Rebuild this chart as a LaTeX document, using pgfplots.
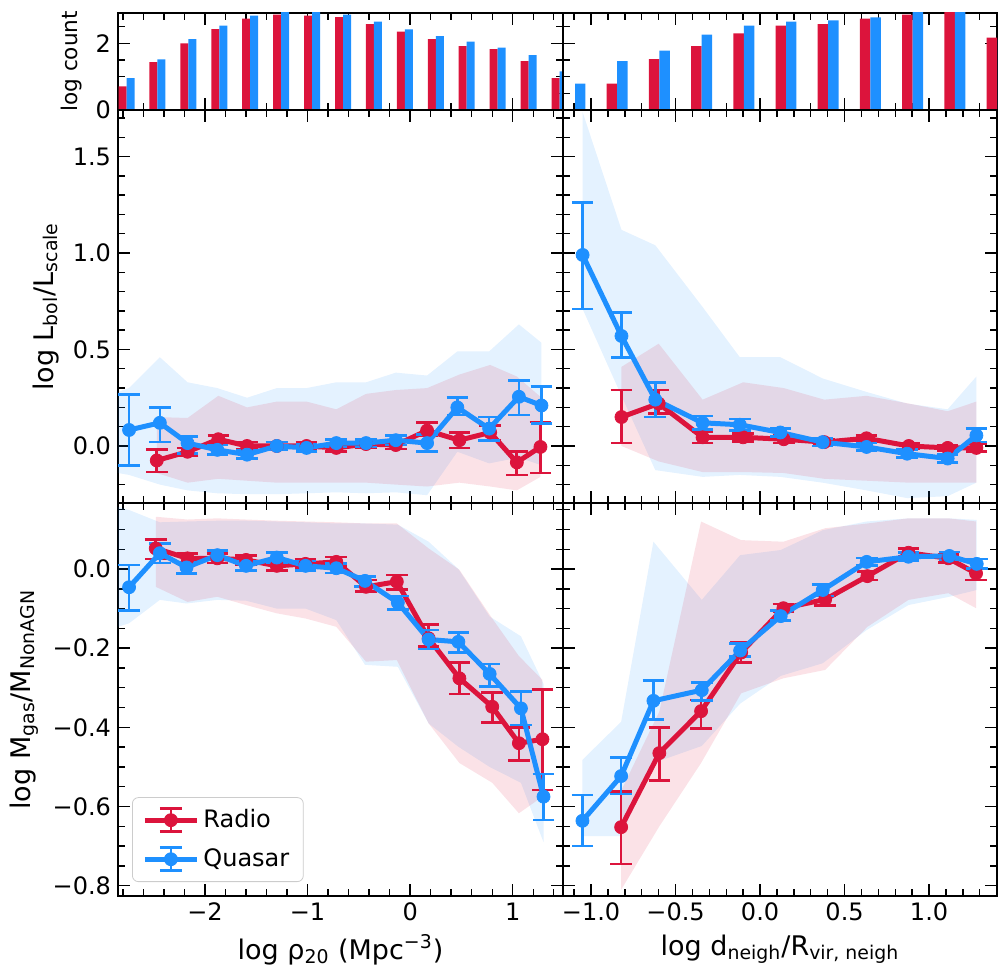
\documentclass[border=0pt]{standalone}
\usepackage{fontspec}
\setmainfont{DejaVu Sans}
\usepackage{pgfplots}
\pgfplotsset{compat=1.18}
\definecolor{crimson}{RGB}{220,20,60}
\definecolor{dodger}{RGB}{30,144,255}
\pgfplotsset{
  panel/.style={
    scale only axis, anchor=south west,
    tick align=inside,
    major tick length=6pt, minor tick length=3.5pt,
    every tick/.style={black, line width=0.7pt},
    axis line style={black, line width=0.9pt},
    ticklabel style={font=\fontsize{12}{14}\selectfont},
    label style={font=\fontsize{13.5}{16}\selectfont},
    xtick pos=both, ytick pos=both,
  },
  lx/.style={width=222.5pt, xmin=-2.848, xmax=1.49, xtick={-2,-1,0,1}, minor xtick={-2.8,-2.6,...,1.41}},
  rx/.style={width=217pt, xmin=-1.166, xmax=1.402, xtick={-1,-0.5,0,0.5,1}, minor xtick={-1.1,-1.0,...,1.41}},
  toprow/.style={height=48.65pt, ymin=0, ymax=2.92, ytick={0,2}, minor ytick={0.5,1,1.5,2.5}},
  midrow/.style={height=196.65pt, ymin=-0.297, ymax=1.741, ytick={0,0.5,1,1.5}, minor ytick={-0.2,-0.1,...,1.71}},
  botrow/.style={height=196.35pt, ymin=-0.826, ymax=0.166, ytick={-0.8,-0.6,-0.4,-0.2,0}, minor ytick={-0.8,-0.75,...,0.151}},
  rbar/.style={ybar, bar width=0.078, bar shift=0pt, fill=crimson, draw=none, forget plot},
  bbar/.style={ybar, bar width=0.078, bar shift=0pt, fill=dodger, draw=none, forget plot},
  rband/.style={draw=none, fill=crimson, fill opacity=0.12, forget plot},
  bband/.style={draw=none, fill=dodger, fill opacity=0.12, forget plot},
  rad/.style={color=crimson, line width=2.5pt, mark=*, mark size=3.25pt,
    mark options={solid, fill=crimson, draw=crimson, line width=0.4pt}, forget plot,
    error bars/.cd, y dir=both, y explicit,
    error bar style={line width=1.35pt, crimson},
    error mark options={rotate=90, crimson, line width=1.35pt, mark size=5.4pt}},
  qua/.style={color=dodger, line width=2.5pt, mark=*, mark size=3.25pt,
    mark options={solid, fill=dodger, draw=dodger, line width=0.4pt}, forget plot,
    error bars/.cd, y dir=both, y explicit,
    error bar style={line width=1.35pt, dodger},
    error mark options={rotate=90, dodger, line width=1.35pt, mark size=5.4pt}},
}
\newcommand{\errimg}[1]{%
  \draw[#1, line width=2.5pt] (0pt,0pt) -- (26pt,0pt);
  \draw[#1, line width=1.35pt] (13pt,-5.75pt) -- (13pt,5.75pt);
  \draw[#1, line width=1.35pt] (7.5pt,5.75pt) -- (18.5pt,5.75pt);
  \draw[#1, line width=1.35pt] (7.5pt,-5.75pt) -- (18.5pt,-5.75pt);
  \fill[#1, fill opacity=1] (13pt,0pt) circle (3.25pt);}
\begin{document}
\begin{tikzpicture}
\useasboundingbox (0pt,0pt) rectangle (500pt,485.5pt);
% ---------------- top left histogram
\begin{axis}[panel, lx, toprow, at={(59pt,430.5pt)}, xticklabels={}, yticklabels={0,2}, ylabel={log count},
  ylabel style={font=\fontsize{10.8}{13}\selectfont}]
\addplot[rbar] coordinates {(-2.804,0.71) (-2.5025,1.44) (-2.201,2.00) (-1.8995,2.43) (-1.598,2.74) (-1.2965,2.86) (-0.995,2.83) (-0.6935,2.79) (-0.392,2.58) (-0.0905,2.35) (0.211,2.13) (0.5125,1.92) (0.814,1.83) (1.1155,1.47) (1.417,0.96)};
\addplot[bbar] coordinates {(-2.726,0.96) (-2.4245,1.52) (-2.123,2.13) (-1.8215,2.53) (-1.52,2.83) (-1.2185,3.0) (-0.917,3.0) (-0.6155,2.86) (-0.314,2.65) (-0.0125,2.42) (0.289,2.22) (0.5905,2.05) (0.892,1.87) (1.1935,1.65) (1.495,1.16)};
\end{axis}
% ---------------- top right histogram
\begin{axis}[panel, rx, toprow, at={(281.5pt,430.5pt)}, xticklabels={}, yticklabels={}]
\addplot[rbar, bar width=0.062] coordinates {(-0.8763,0.79) (-0.6266,1.53) (-0.3769,1.92) (-0.1272,2.30) (0.1225,2.53) (0.3722,2.58) (0.6219,2.74) (0.8716,2.86) (1.1213,3.0) (1.371,2.17)};
\addplot[bbar, bar width=0.062] coordinates {(-1.064,0.79) (-0.8143,1.47) (-0.5646,1.78) (-0.3149,2.26) (-0.0652,2.53) (0.1845,2.65) (0.4342,2.69) (0.6839,2.78) (0.9336,3.0) (1.1833,3.0) (1.433,2.12)};
\end{axis}
% ---------------- middle left
\begin{axis}[panel, lx, midrow, at={(59pt,233.85pt)}, xticklabels={}, yticklabels={0.0,0.5,1.0,1.5},
  ylabel={log L\textsubscript{bol}/L\textsubscript{scale}}]
\addplot[bband] coordinates {(-2.848,0.28) (-2.74,0.30) (-2.44,0.46) (-2.17,0.33) (-1.88,0.30) (-1.59,0.25) (-1.30,0.30) (-1.01,0.30) (-0.72,0.33) (-0.43,0.33) (-0.14,0.38) (0.165,0.365) (0.46,0.49) (0.77,0.49) (1.06,0.63) (1.28,0.535)
 (1.28,-0.10) (1.06,-0.06) (0.77,-0.09) (0.46,-0.03) (0.165,-0.255) (-0.14,-0.24) (-0.43,-0.245) (-0.72,-0.24) (-1.01,-0.245) (-1.30,-0.25) (-1.59,-0.25) (-1.88,-0.245) (-2.17,-0.23) (-2.44,-0.20) (-2.74,-0.15) (-2.848,-0.14)} -- cycle;
\addplot[rband] coordinates {(-2.47,0.15) (-2.17,0.145) (-1.87,0.26) (-1.59,0.20) (-1.30,0.23) (-1.01,0.23) (-0.72,0.19) (-0.43,0.27) (-0.14,0.29) (0.165,0.30) (0.48,0.37) (0.78,0.42) (1.04,0.36) (1.27,0.255)
 (1.27,-0.16) (1.04,-0.23) (0.78,-0.21) (0.48,-0.19) (0.165,-0.21) (-0.14,-0.20) (-0.43,-0.19) (-0.72,-0.19) (-1.01,-0.19) (-1.30,-0.19) (-1.59,-0.18) (-1.87,-0.17) (-2.17,-0.19) (-2.47,-0.14)} -- cycle;
\addplot[rad] table[x=x,y=y,y error plus=ep,y error minus=em,row sep=\\] {x y ep em\\
-2.47 -0.075 0.055 0.06\\ -2.17 -0.03 0.02 0.02\\ -1.87 0.035 0.02 0.02\\ -1.59 0.0 0.02 0.02\\ -1.30 0.0 0.02 0.02\\
-1.01 0.0 0.02 0.02\\ -0.72 -0.01 0.02 0.02\\ -0.43 0.01 0.02 0.02\\ -0.14 0.005 0.02 0.02\\ 0.165 0.08 0.04 0.025\\
0.48 0.03 0.04 0.04\\ 0.78 0.07 0.035 0.04\\ 1.04 -0.085 0.055 0.065\\ 1.27 -0.005 0.13 0.135\\};
\addplot[qua] table[x=x,y=y,y error plus=ep,y error minus=em,row sep=\\] {x y ep em\\
-2.74 0.083 0.182 0.183\\ -2.44 0.12 0.08 0.10\\ -2.17 0.015 0.035 0.055\\ -1.88 -0.02 0.025 0.025\\ -1.59 -0.045 0.02 0.02\\
-1.30 0.0 0.02 0.02\\ -1.01 -0.01 0.02 0.02\\ -0.72 0.015 0.02 0.02\\ -0.43 0.015 0.02 0.02\\ -0.14 0.03 0.025 0.025\\
0.165 0.015 0.045 0.045\\ 0.46 0.20 0.05 0.04\\ 0.77 0.09 0.06 0.06\\ 1.06 0.255 0.085 0.095\\ 1.28 0.21 0.10 0.095\\};
\end{axis}
% ---------------- middle right
\begin{axis}[panel, rx, midrow, at={(281.5pt,233.85pt)}, xticklabels={}, yticklabels={}]
\addplot[bband] coordinates {(-1.05,1.73) (-0.82,1.12) (-0.62,1.04) (-0.34,0.72) (-0.12,0.46) (0.12,0.46) (0.37,0.35) (0.63,0.28) (0.87,0.22) (1.11,0.19) (1.28,0.36)
 (1.28,-0.19) (1.11,-0.26) (0.87,-0.27) (0.63,-0.23) (0.37,-0.19) (0.12,-0.16) (-0.12,-0.15) (-0.34,-0.16) (-0.62,-0.125) (-0.82,0.26) (-1.05,0.71)} -- cycle;
\addplot[rband] coordinates {(-0.82,0.41) (-0.60,0.53) (-0.34,0.24) (-0.10,0.33) (0.14,0.30) (0.38,0.24) (0.63,0.26) (0.88,0.22) (1.11,0.18) (1.28,0.23)
 (1.28,-0.19) (1.11,-0.19) (0.88,-0.19) (0.63,-0.18) (0.38,-0.17) (0.14,-0.14) (-0.10,-0.135) (-0.34,-0.135) (-0.60,-0.08) (-0.82,0.0)} -- cycle;
\addplot[rad] table[x=x,y=y,y error plus=ep,y error minus=em,row sep=\\] {x y ep em\\
-0.82 0.15 0.14 0.135\\ -0.60 0.22 0.07 0.05\\ -0.34 0.045 0.03 0.03\\ -0.10 0.045 0.02 0.02\\ 0.14 0.035 0.02 0.02\\
0.38 0.02 0.015 0.015\\ 0.63 0.04 0.015 0.015\\ 0.88 0.0 0.015 0.015\\ 1.11 -0.01 0.015 0.015\\ 1.28 -0.01 0.02 0.02\\};
\addplot[qua] table[x=x,y=y,y error plus=ep,y error minus=em,row sep=\\] {x y ep em\\
-1.05 0.99 0.27 0.28\\ -0.82 0.57 0.12 0.11\\ -0.62 0.24 0.09 0.09\\ -0.34 0.12 0.035 0.035\\ -0.12 0.11 0.03 0.03\\
0.12 0.07 0.02 0.02\\ 0.37 0.02 0.02 0.02\\ 0.63 -0.005 0.02 0.02\\ 0.87 -0.04 0.02 0.02\\ 1.11 -0.065 0.02 0.02\\ 1.28 0.055 0.035 0.035\\};
\end{axis}
% ---------------- bottom left
\begin{axis}[panel, lx, botrow, at={(59pt,37.5pt)}, xticklabels={−2,−1,0,1}, yticklabels={−0.8,−0.6,−0.4,−0.2,0.0},
  xlabel={log ρ\textsubscript{20} (Mpc\textsuperscript{−3})}, ylabel={log M\textsubscript{gas}/M\textsubscript{NonAGN}},
  legend style={at={(0.0315,0.0356)}, anchor=south west, draw=black!20, rounded corners=3pt, fill=white, fill opacity=0.8, draw opacity=1, text opacity=1,
    font=\fontsize{12}{14}\selectfont, inner xsep=5pt, inner ysep=4pt, row sep=5pt, cells={anchor=west}},
  legend cell align=left]
\addlegendimage{legend image code/.code={\errimg{crimson}}}
\addlegendentry{Radio}
\addlegendimage{legend image code/.code={\errimg{dodger}}}
\addlegendentry{Quasar}
\addplot[bband] coordinates {(-2.848,0.157) (-2.74,0.149) (-2.44,0.118) (-2.18,0.12) (-1.88,0.122) (-1.60,0.122) (-1.30,0.12) (-1.02,0.118) (-0.72,0.115) (-0.44,0.115) (-0.12,0.112) (0.18,0.069) (0.47,0.0) (0.775,-0.12) (1.08,-0.17) (1.30,-0.29)
 (1.30,-0.69) (1.08,-0.54) (0.775,-0.50) (0.47,-0.449) (0.18,-0.39) (-0.12,-0.247) (-0.44,-0.242) (-0.72,-0.129) (-1.02,-0.10) (-1.30,-0.10) (-1.60,-0.08) (-1.88,-0.078) (-2.18,-0.087) (-2.44,-0.078) (-2.74,-0.137) (-2.848,-0.146)} -- cycle;
\addplot[rband] coordinates {(-2.48,0.132) (-2.17,0.125) (-1.88,0.128) (-1.60,0.125) (-1.30,0.122) (-1.02,0.12) (-0.72,0.118) (-0.43,0.115) (-0.13,0.115) (0.18,0.052) (0.48,-0.002) (0.80,-0.125) (1.06,-0.22) (1.29,-0.28)
 (1.29,-0.575) (1.06,-0.617) (0.80,-0.54) (0.48,-0.49) (0.18,-0.39) (-0.13,-0.23) (-0.43,-0.234) (-0.72,-0.146) (-1.02,-0.125) (-1.30,-0.112) (-1.60,-0.091) (-1.88,-0.07) (-2.17,-0.083) (-2.48,-0.045)} -- cycle;
\addplot[rad] table[x=x,y=y,y error plus=ep,y error minus=em,row sep=\\] {x y ep em\\
-2.48 0.052 0.023 0.027\\ -2.17 0.027 0.012 0.012\\ -1.88 0.027 0.012 0.012\\ -1.60 0.023 0.012 0.012\\ -1.30 0.008 0.012 0.012\\
-1.02 0.013 0.012 0.012\\ -0.72 0.018 0.012 0.012\\ -0.43 -0.045 0.017 0.012\\ -0.13 -0.032 0.017 0.019\\ 0.18 -0.175 0.034 0.021\\
0.48 -0.276 0.039 0.04\\ 0.80 -0.348 0.036 0.039\\ 1.06 -0.44 0.04 0.044\\ 1.29 -0.43 0.126 0.128\\};
\addplot[qua] table[x=x,y=y,y error plus=ep,y error minus=em,row sep=\\] {x y ep em\\
-2.74 -0.046 0.056 0.058\\ -2.44 0.040 0.025 0.025\\ -2.18 0.004 0.013 0.015\\ -1.88 0.035 0.012 0.012\\ -1.60 0.008 0.012 0.012\\
-1.30 0.029 0.012 0.012\\ -1.02 0.008 0.012 0.012\\ -0.72 0.002 0.012 0.012\\ -0.44 -0.030 0.011 0.014\\ -0.12 -0.085 0.017 0.017\\
0.18 -0.178 0.024 0.024\\ 0.47 -0.184 0.023 0.027\\ 0.775 -0.265 0.025 0.032\\ 1.08 -0.352 0.042 0.042\\ 1.30 -0.575 0.057 0.059\\};
\end{axis}
% ---------------- bottom right
\begin{axis}[panel, rx, botrow, at={(281.5pt,37.5pt)}, xticklabels={−1.0,−0.5,0.0,0.5,1.0}, yticklabels={},
  xlabel={log d\textsubscript{neigh}/R\textsubscript{vir, neigh}}]
\addplot[bband] coordinates {(-1.051,-0.482) (-0.822,-0.386) (-0.631,0.069) (-0.345,-0.078) (-0.118,0.035) (0.122,0.048) (0.371,0.098) (0.631,0.12) (0.878,0.128) (1.12,0.128) (1.282,0.124)
 (1.282,-0.053) (1.12,-0.07) (0.878,-0.091) (0.631,-0.154) (0.371,-0.238) (0.122,-0.27) (-0.118,-0.34) (-0.345,-0.447) (-0.631,-0.49) (-0.822,-0.675) (-1.051,-0.675)} -- cycle;
\addplot[rband] coordinates {(-0.822,-0.56) (-0.596,-0.36) (-0.349,0.12) (-0.112,0.073) (0.138,0.069) (0.385,0.103) (0.635,0.115) (0.878,0.128) (1.114,0.128) (1.278,0.12)
 (1.278,-0.099) (1.114,-0.061) (0.878,-0.078) (0.635,-0.146) (0.385,-0.255) (0.138,-0.276) (-0.112,-0.314) (-0.349,-0.49) (-0.596,-0.65) (-0.822,-0.81)} -- cycle;
\addplot[rad] table[x=x,y=y,y error plus=ep,y error minus=em,row sep=\\] {x y ep em\\
-0.822 -0.652 0.09 0.093\\ -0.596 -0.465 0.065 0.07\\ -0.349 -0.359 0.028 0.043\\ -0.112 -0.211 0.025 0.026\\ 0.138 -0.099 0.011 0.009\\
0.385 -0.077 0.009 0.016\\ 0.635 -0.018 0.011 0.01\\ 0.878 0.041 0.01 0.01\\ 1.114 0.027 0.01 0.01\\ 1.278 -0.011 0.013 0.017\\};
\addplot[qua] table[x=x,y=y,y error plus=ep,y error minus=em,row sep=\\] {x y ep em\\
-1.051 -0.636 0.065 0.064\\ -0.822 -0.523 0.047 0.045\\ -0.631 -0.333 0.051 0.048\\ -0.345 -0.306 0.019 0.027\\ -0.118 -0.206 0.018 0.015\\
0.122 -0.119 0.014 0.011\\ 0.371 -0.053 0.013 0.015\\ 0.631 0.018 0.01 0.01\\ 0.878 0.031 0.01 0.01\\ 1.12 0.033 0.01 0.01\\ 1.282 0.013 0.012 0.012\\};
\end{axis}
\end{tikzpicture}
\end{document}
